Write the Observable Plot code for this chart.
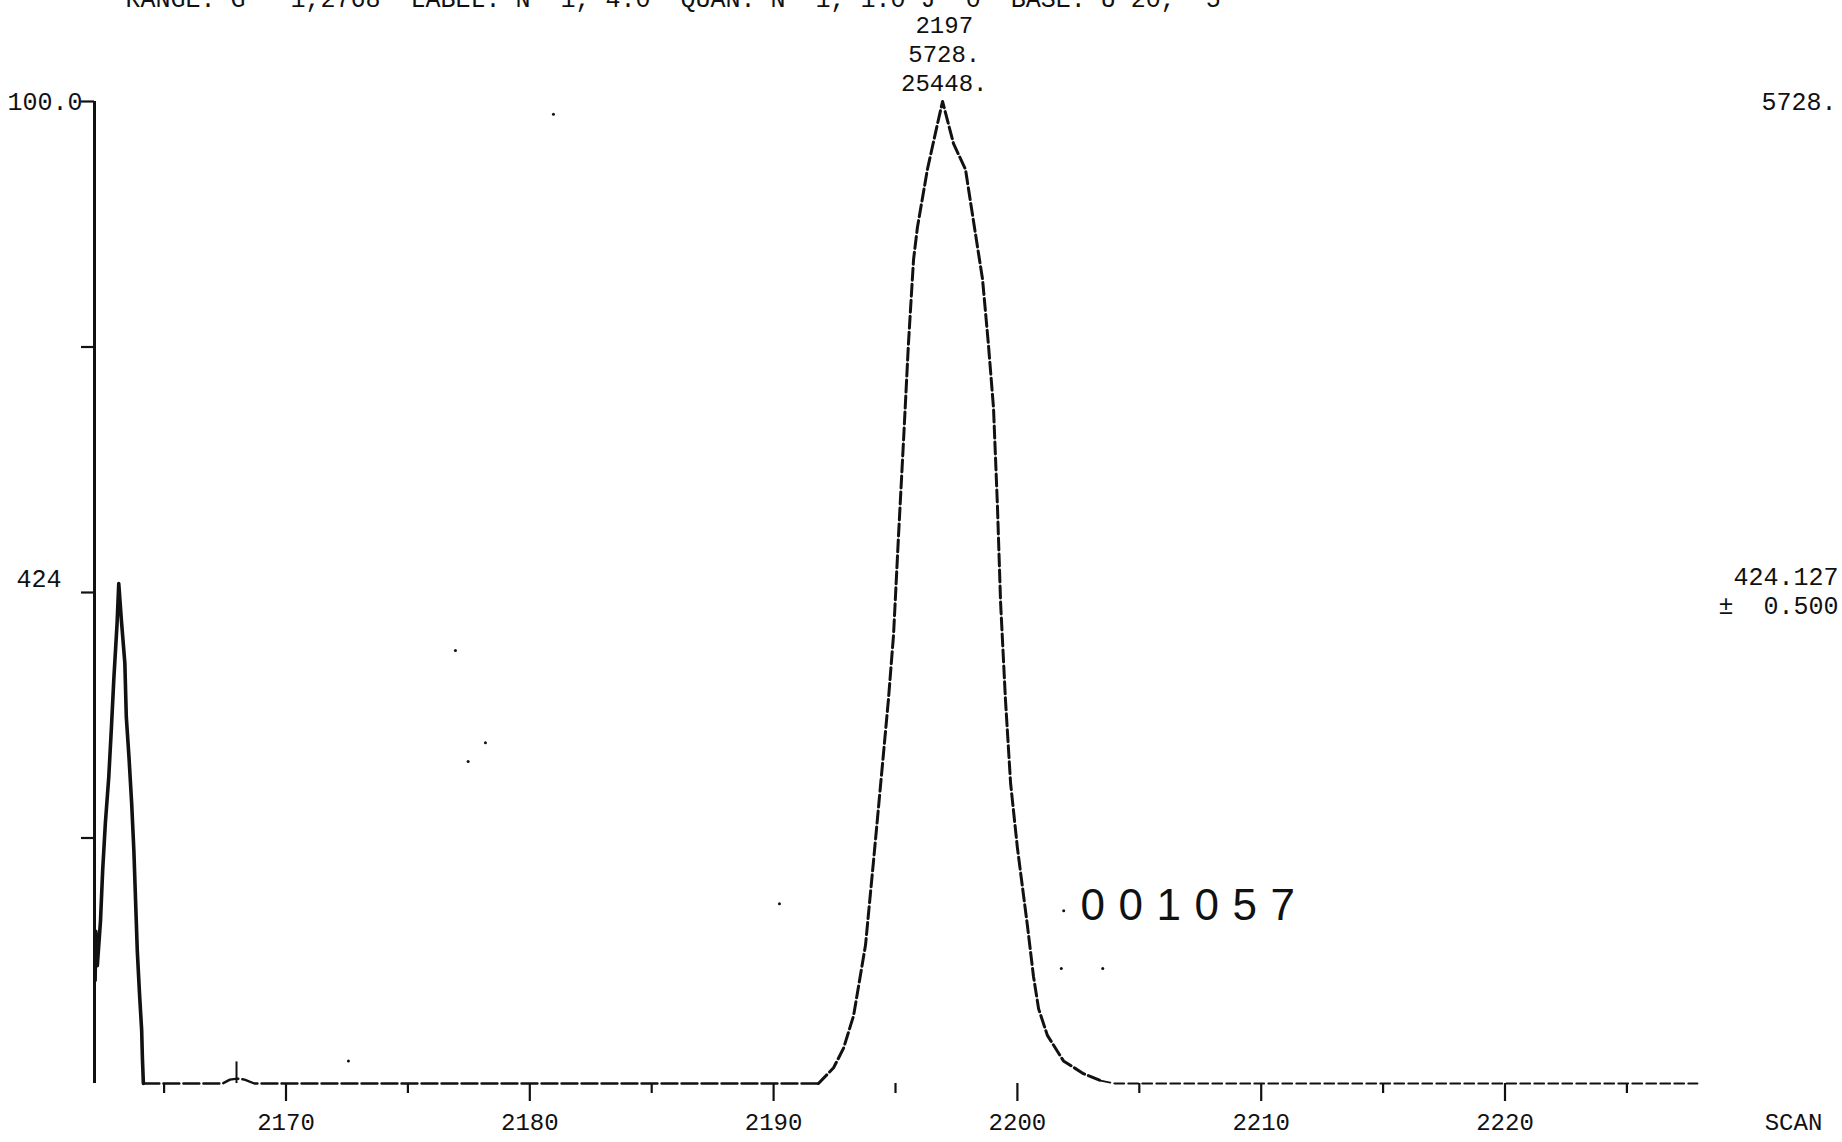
<!DOCTYPE html>
<html><head><meta charset="utf-8">
<script src="https://cdn.jsdelivr.net/npm/d3@7"></script>
<script src="https://cdn.jsdelivr.net/npm/@observablehq/plot@0.6"></script>
<style>
html,body{margin:0;padding:0;background:#fff;}
#chart svg{display:block;}
</style></head><body><div id="chart"></div>
<script>
// ---- data ----
const headerLines = ["RANGE: G   1,2768  LABEL: N  1, 4.0  QUAN: N  1, 1.0 J  0  BASE: U 20,  5"];
const peakLabels = ["2197", "5728.", "25448."];
const yTopLabel = ["100.0"];
const yMassLabel = ["424"];
const rightTopLabel = ["5728."];
const rightMassLabels = ["424.127"];
const rightWindowLabels = ["\u00b1  0.500"];
const sampleLabel = ["001057"];
const xTickValues = [2170, 2180, 2190, 2200, 2210, 2220];
const xTickLabels = ["2170", "2180", "2190", "2200", "2210", "2220"];
const xMinorTicks = [2165, 2175, 2185, 2195, 2205, 2215, 2225];
const xAxisName = ["SCAN"];
const yTicks = [25, 50, 75, 100];

const smallPeakScan = [2162.17, 2162.2, 2162.26, 2162.39, 2162.48, 2162.59, 2162.73, 2162.84, 2162.94, 2163.07, 2163.14, 2163.25, 2163.39, 2163.45, 2163.56, 2163.67, 2163.76, 2163.83, 2163.9, 2163.99, 2164.08, 2164.11, 2164.15];
const smallPeakPct  = [10.5, 15.5, 12, 16.5, 21.7, 26.5, 31.2, 36.3, 41.3, 46.8, 50.9, 47.1, 42.8, 37.3, 33.2, 28.5, 23.7, 18.6, 13.5, 9.2, 5.4, 2.6, 0];

const baselineScan = [2164.15, 2167.4, 2167.7, 2168.0, 2168.3, 2168.7, 2191.84];
const baselinePct  = [0, 0, 0.4, 0.5, 0.4, 0, 0];

const mainPeakScan = [2191.84, 2192.46, 2192.87, 2193.28, 2193.77, 2194.10, 2194.47, 2194.71, 2194.92, 2195.12, 2195.33, 2195.53, 2195.74, 2195.90, 2196.31, 2196.72, 2196.93, 2197.38, 2197.87, 2198.20, 2198.57, 2198.81, 2199.02, 2199.18, 2199.31, 2199.51, 2199.72, 2200.00, 2200.41, 2200.66, 2200.87, 2201.23, 2201.89, 2202.71, 2203.41];
const mainPeakPct  = [0, 1.6, 3.6, 6.9, 14.1, 22.7, 32.6, 39.1, 45.7, 55.6, 65.5, 75.3, 83.9, 87.2, 93.1, 97.7, 100, 95.7, 93.1, 87.8, 81.9, 75.3, 68.8, 58.9, 49, 39.1, 30.6, 24, 16.1, 10.9, 7.6, 4.9, 2.3, 1, 0.3];

const tailScan = [2203.41, 2204.0, 2227.896];
const tailPct  = [0.3, 0, 0];

const speckScan = [2180.97, 2176.95, 2178.18, 2177.47, 2190.24, 2201.8, 2203.5, 2172.56, 2201.9];
const speckPct  = [98.7, 44.1, 34.7, 32.8, 18.3, 11.7, 11.7, 2.3, 17.6];
const spikeScan = [2167.97];
const spikePct  = [2.2];

// ---- build tables ----
const zip = (xs, ys) => xs.map((s, i) => ({scan: s, pct: ys[i]}));
const smallPeak = zip(smallPeakScan, smallPeakPct);
const baseline = zip(baselineScan, baselinePct);
const mainPeak = zip(mainPeakScan, mainPeakPct);
const tail = zip(tailScan, tailPct);
const specks = zip(speckScan, speckPct);
const spikes = zip(spikeScan, spikePct);
const xTicks = xTickValues.map((v, i) => ({v, label: xTickLabels[i]}));

const ink = "#111";
const mono = "'Liberation Mono', 'DejaVu Sans Mono', monospace";
const xMin = 2162.145, xMax = 2227.896;

const fig = Plot.plot({
  width: 1842, height: 1142,
  marginLeft: 94, marginRight: 145, marginTop: 101, marginBottom: 59,
  style: {background: "#fff", color: ink, fontFamily: mono},
  x: {domain: [xMin, xMax]},
  y: {domain: [0, 100]},
  marks: [
    Plot.axisY({ticks: yTicks, tickSize: 13, fill: "none", stroke: ink, strokeWidth: 2.2, label: null}),
    Plot.axisX({ticks: xMinorTicks, tickSize: 10, fill: "none", stroke: ink, strokeWidth: 2.2, label: null}),
    Plot.axisX({ticks: xTickValues, tickSize: 18, fill: "none", stroke: ink, strokeWidth: 2.2, label: null}),
    Plot.ruleX([xMin], {y1: 0, y2: 100, stroke: ink, strokeWidth: 3}),
    Plot.line(baseline, {x: "scan", y: "pct", stroke: ink, strokeWidth: 2.4, strokeDasharray: "16,4"}),
    Plot.line(tail, {x: "scan", y: "pct", stroke: ink, strokeWidth: 1.8, strokeDasharray: "10,4"}),
    Plot.line(smallPeak, {x: "scan", y: "pct", stroke: ink, strokeWidth: 3.6}),
    Plot.line(mainPeak, {x: "scan", y: "pct", stroke: ink, strokeWidth: 3, strokeDasharray: "12,4"}),
    Plot.ruleX(spikes, {x: "scan", y1: 0, y2: "pct", stroke: ink, strokeWidth: 2}),
    Plot.dot(specks, {x: "scan", y: "pct", r: 1.5, fill: ink, stroke: null}),
    // header (cut off by the top edge, as in the source)
    Plot.text(headerLines, {frameAnchor: "top-left", textAnchor: "start", lineAnchor: "bottom", dx: 31, dy: -95, fontSize: 25, fill: ink}),
    // peak annotation
    Plot.text([peakLabels.join("\n")], {x: 2197, y: 100, textAnchor: "middle", lineAnchor: "middle", dy: -49, lineHeight: 1.22, fontSize: 24, fill: ink}),
    // left labels
    Plot.text(yTopLabel, {frameAnchor: "left", y: 100, textAnchor: "end", lineAnchor: "middle", dx: -12, fontSize: 25, fill: ink}),
    Plot.text(yMassLabel, {frameAnchor: "left", y: 50, textAnchor: "end", lineAnchor: "middle", dx: -33, dy: -14, fontSize: 25, fill: ink}),
    // right labels
    Plot.text(rightTopLabel, {frameAnchor: "right", y: 100, textAnchor: "end", lineAnchor: "middle", dx: 139, fontSize: 25, fill: ink}),
    Plot.text(rightMassLabels, {frameAnchor: "right", y: 50, textAnchor: "end", lineAnchor: "middle", dx: 141, dy: -16, fontSize: 25, fill: ink}),
    Plot.text(rightWindowLabels, {frameAnchor: "right", y: 50, textAnchor: "end", lineAnchor: "middle", dx: 141, dy: 13, fontSize: 25, fill: ink}),
    // x labels
    Plot.text(xTicks, {x: "v", text: "label", frameAnchor: "bottom", lineAnchor: "middle", dy: 39, fontSize: 24, fill: ink}),
    Plot.text(xAxisName, {frameAnchor: "bottom-right", textAnchor: "middle", lineAnchor: "middle", dx: 96, dy: 39, fontSize: 24, fill: ink}),
    // sample number
    Plot.text(sampleLabel, {x: 2202.59, y: 18.1, textAnchor: "start", lineAnchor: "middle", fontSize: 44, fontFamily: "'Liberation Sans', Arial, sans-serif", fill: ink})
  ]
});

d3.select(fig).selectAll("text")
  .attr("xml:space", "preserve")
  .style("white-space", "pre");
d3.select(fig).selectAll("text").filter(function() { return this.textContent === sampleLabel[0]; })
  .attr("letter-spacing", "13.5px");

document.getElementById("chart").appendChild(fig);
</script></body></html>
